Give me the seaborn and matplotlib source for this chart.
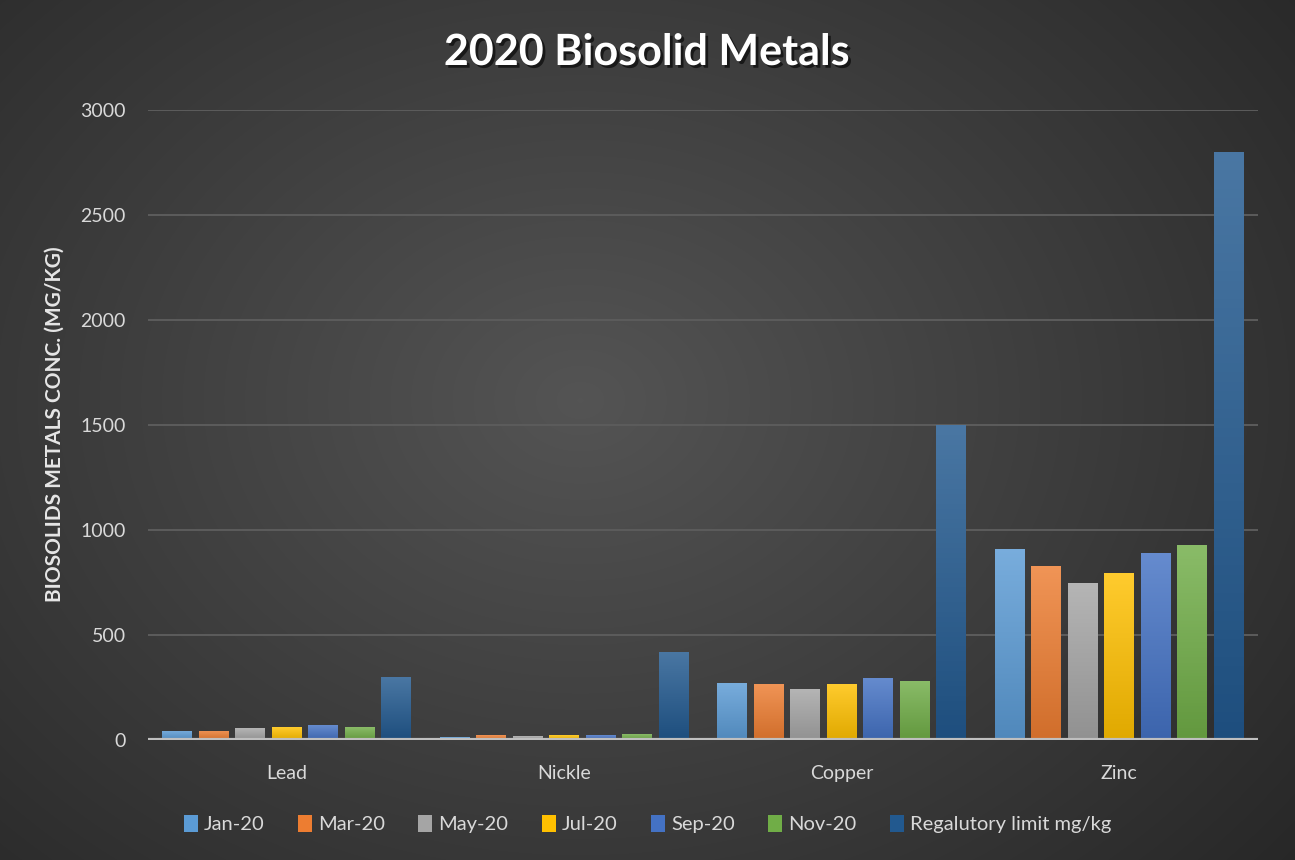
import numpy as np
import pandas as pd
import matplotlib
matplotlib.use("Agg")
import matplotlib.pyplot as plt
import matplotlib.patheffects as pe
import matplotlib.colors as mcolors
from matplotlib.patches import Patch
import seaborn as sns

metals = ["Lead", "Nickle", "Copper", "Zinc"]
series = ["Jan-20", "Mar-20", "May-20", "Jul-20", "Sep-20", "Nov-20", "Regalutory limit mg/kg"]
jan = [45, 12, 273, 911]
mar = [45, 22, 268, 830]
may = [55, 18, 244, 749]
jul = [60, 22, 268, 797]
sep = [70, 22, 297, 892]
nov = [60, 27, 282, 930]
limit = [300, 420, 1500, 2800]
colors = ["#5B9BD5", "#ED7D31", "#A5A5A5", "#FFC000", "#4472C4", "#70AD47", "#22598F"]
yticks = [0, 500, 1000, 1500, 2000, 2500, 3000]

values = [jan, mar, may, jul, sep, nov, limit]
rows = []
for s, vals in zip(series, values):
    for m, v in zip(metals, vals):
        rows.append({"metal": m, "series": s, "value": v})
df = pd.DataFrame(rows)

sns.set_theme(style="dark")
plt.rcParams["font.family"] = ["Lato", "DejaVu Sans"]

fig = plt.figure(figsize=(12.95, 8.6), dpi=100)

# radial gradient background
bg = fig.add_axes([0, 0, 1, 1], zorder=-10)
yy, xx = np.mgrid[0:860, 0:1295]
d = np.sqrt(((xx - 580) / 900.0) ** 2 + ((yy - 400) / 700.0) ** 2)
lum = np.clip(0.33 - 0.17 * d, 0.15, 0.35)
img = np.dstack([lum, lum, lum])
bg.imshow(img, aspect="auto", extent=[0, 1, 0, 1])
bg.set_axis_off()

ax = fig.add_axes([148 / 1295, 1 - 740 / 860, 1110 / 1295, 630 / 860])
ax.set_facecolor("none")

sns.barplot(data=df, x="metal", y="value", hue="series", order=metals,
            hue_order=series, palette=colors, saturation=1, width=0.92,
            gap=0.18, errorbar=None, ax=ax, legend=False, zorder=3,
            linewidth=0, edgecolor="none")

# vertical gradient shading on each bar
for bar in list(ax.patches):
    x0, y0 = bar.get_x(), bar.get_y()
    w, h = bar.get_width(), bar.get_height()
    if h <= 0:
        continue
    base = np.array(mcolors.to_rgb(bar.get_facecolor()))
    top = base + (1 - base) * 0.18
    bot = base * 0.88
    t = np.linspace(0, 1, 64)[:, None]
    grad = top[None, :] * (1 - t) + bot[None, :] * t
    grad = grad[:, None, :]
    im = ax.imshow(grad, extent=[x0, x0 + w, y0, y0 + h], aspect="auto",
                   origin="upper", zorder=3.5)
    im.set_clip_path(bar)

ax.set_ylim(0, 3000)
ax.set_xlim(-0.5, 3.5)
ax.set_yticks(yticks)
ax.set_yticklabels([str(t) for t in yticks], color="#d9d9d9", fontsize=14)
ax.tick_params(axis="y", length=0, pad=16)
ax.tick_params(axis="x", length=0, pad=18, labelsize=14, labelcolor="#d9d9d9")
ax.yaxis.grid(True, color="#5c5c5c", linewidth=1.4, zorder=0)
ax.xaxis.grid(False)
for sp in ax.spines.values():
    sp.set_visible(False)
ax.axhline(0, color="#bfbfbf", linewidth=3, zorder=4)
ax.set_xlabel("")
ax.set_ylabel("")

fig.text(55 / 1295, 1 - 424 / 860, "BIOSOLIDS METALS CONC. (MG/KG)", rotation=90,
         ha="center", va="center", color="#e6e6e6", fontsize=15, fontweight="bold")

fig.text(0.4995, 1 - 52 / 860, "2020 Biosolid Metals", ha="center", va="center",
         color="white", fontsize=31, fontweight="bold",
         path_effects=[pe.withSimplePatchShadow(offset=(2, -2), shadow_rgbFace="black", alpha=0.6)])

handles = [Patch(facecolor=c, edgecolor="none") for c in colors]
fig.legend(handles, series, loc="center", bbox_to_anchor=(0.5, 1 - 824 / 860), ncol=7,
           frameon=False, fontsize=14.5, labelcolor="#d9d9d9", handlelength=0.7,
           handleheight=0.9, handletextpad=0.3, columnspacing=1.65)

fig.savefig("out.png", dpi=100)
